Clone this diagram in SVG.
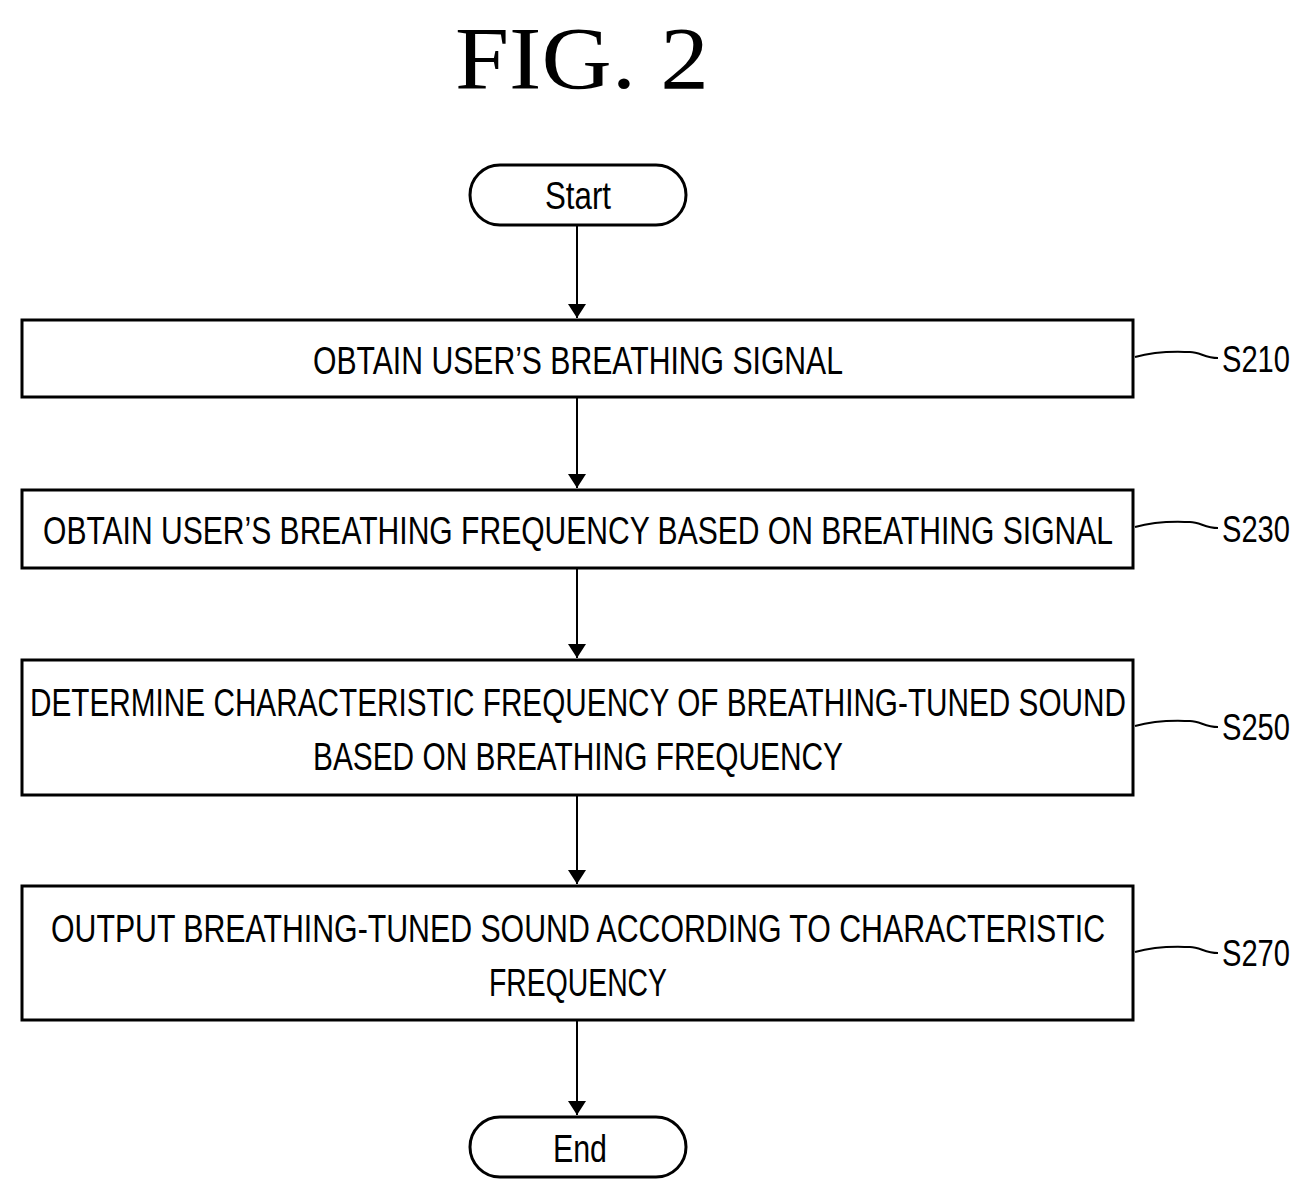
<svg xmlns="http://www.w3.org/2000/svg" width="1311" height="1203" viewBox="0 0 1311 1203">
<style>
.b{fill:#fff;stroke:#000;stroke-width:3}
.t{font-family:"Liberation Sans",sans-serif;font-size:38px;fill:#000;text-anchor:middle}
.l{font-family:"Liberation Sans",sans-serif;font-size:36px;fill:#000}
.c{stroke:#000;stroke-width:2;fill:none}
</style>
<defs><marker id="a" markerWidth="14" markerHeight="30" refX="10" refY="5" orient="auto" markerUnits="userSpaceOnUse" viewBox="0 0 10 10" preserveAspectRatio="none"><path d="M0,2 L10,5 L0,8 z" fill="#000"/></marker></defs>
<rect width="1311" height="1203" fill="#fff"/>
<text x="582" y="88" font-family="Liberation Serif,serif" font-size="88" text-anchor="middle" textLength="254" lengthAdjust="spacingAndGlyphs">FIG. 2</text>
<g id="connectors">
<line class="c" x1="577" y1="226" x2="577" y2="318" marker-end="url(#a)"/>
<line class="c" x1="577" y1="398" x2="577" y2="488" marker-end="url(#a)"/>
<line class="c" x1="577" y1="569" x2="577" y2="658" marker-end="url(#a)"/>
<line class="c" x1="577" y1="796" x2="577" y2="884" marker-end="url(#a)"/>
<line class="c" x1="577" y1="1021" x2="577" y2="1115" marker-end="url(#a)"/>
<path class="c" d="M1135,357 C1160,350 1180,352 1190,352 S1205,358 1218,358"/>
<path class="c" d="M1135,527 C1160,520 1180,522 1190,522 S1205,528 1218,528"/>
<path class="c" d="M1135,726 C1160,719 1180,721 1190,721 S1205,727 1218,727"/>
<path class="c" d="M1135,952 C1160,945 1180,947 1190,947 S1205,953 1218,953"/>
</g>
<g id="start"><rect class="b" x="470" y="165" width="216" height="60" rx="30"/><text class="t" x="578" y="209" textLength="66" lengthAdjust="spacingAndGlyphs">Start</text></g>
<g id="s210"><rect class="b" x="22" y="320" width="1111" height="77"/><text class="t" x="578" y="374" textLength="530" lengthAdjust="spacingAndGlyphs">OBTAIN USER’S BREATHING SIGNAL</text><text class="l" x="1222" y="372" textLength="68" lengthAdjust="spacingAndGlyphs">S210</text></g>
<g id="s230"><rect class="b" x="22" y="490" width="1111" height="78"/><text class="t" x="578" y="544" textLength="1070" lengthAdjust="spacingAndGlyphs">OBTAIN USER’S BREATHING FREQUENCY BASED ON BREATHING SIGNAL</text><text class="l" x="1222" y="542" textLength="68" lengthAdjust="spacingAndGlyphs">S230</text></g>
<g id="s250"><rect class="b" x="22" y="660" width="1111" height="135"/><text class="t" x="578" y="716" textLength="1096" lengthAdjust="spacingAndGlyphs">DETERMINE CHARACTERISTIC FREQUENCY OF BREATHING-TUNED SOUND</text><text class="t" x="578" y="770" textLength="530" lengthAdjust="spacingAndGlyphs">BASED ON BREATHING FREQUENCY</text><text class="l" x="1222" y="740" textLength="68" lengthAdjust="spacingAndGlyphs">S250</text></g>
<g id="s270"><rect class="b" x="22" y="886" width="1111" height="134"/><text class="t" x="578" y="942" textLength="1054" lengthAdjust="spacingAndGlyphs">OUTPUT BREATHING-TUNED SOUND ACCORDING TO CHARACTERISTIC</text><text class="t" x="578" y="996" textLength="178" lengthAdjust="spacingAndGlyphs">FREQUENCY</text><text class="l" x="1222" y="966" textLength="68" lengthAdjust="spacingAndGlyphs">S270</text></g>
<g id="end"><rect class="b" x="470" y="1117" width="216" height="60" rx="30"/><text class="t" x="580" y="1162" textLength="54" lengthAdjust="spacingAndGlyphs">End</text></g>
</svg>
